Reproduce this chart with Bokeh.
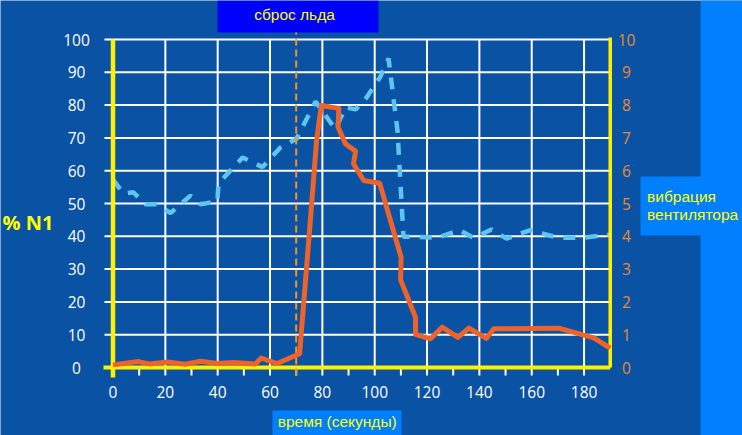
from bokeh.plotting import figure
from bokeh.models import Range1d, BoxAnnotation, Label
from bokeh.core.properties import value
from bokeh.embed import file_html
from bokeh.resources import INLINE

# ---------------- data ----------------
n1_time = [0, 9.7, 13.9, 20.8, 27.7, 33.4, 39.9, 46.0, 54.5, 56.6, 62.7, 71.3, 74.8, 77.8,
           79.6, 86.3, 86.0, 88.8, 92.7, 91.9, 95.8, 101.9, 110.1, 109.9, 115.6, 115.6,
           121.3, 125.8, 131.8, 136.0, 142.7, 145.5, 170.3, 183.7, 190]
n1_pct = [0.8, 1.8, 1.1, 1.7, 1.0, 1.9, 1.2, 1.5, 1.1, 2.9, 1.2, 4.2, 38.7, 69.2,
          79.9, 79.0, 73.3, 68.2, 65.9, 62.1, 57.0, 56.2, 33.6, 26.7, 15.3, 10.1,
          8.75, 12.3, 9.2, 12.0, 8.9, 11.8, 12.0, 9.05, 5.9]

vib_time = [0, 4.0, 7.8, 12.4, 16.6, 22.0, 29.6, 33.4, 39.9, 40.3, 49.5, 57.1, 64.0, 70.1,
            77.4, 85.0, 88.8, 92.7, 96.9, 102.2, 105.3, 108.7, 111.0, 124.0, 132.4, 137.8,
            144.6, 150.4, 159.5, 169.8, 178.6, 190]
vib_level = [5.73, 5.30, 5.34, 4.98, 4.98, 4.71, 5.24, 4.98, 5.06, 5.61, 6.40, 6.11, 6.71, 6.97,
             8.11, 7.26, 7.93, 7.87, 8.23, 8.87, 9.42, 7.23, 3.99, 3.96, 4.19, 3.95,
             4.21, 3.93, 4.19, 3.96, 3.95, 4.05]

x_tick_values = [0, 20, 40, 60, 80, 100, 120, 140, 160, 180]
x_tick_labels = ["0", "20", "40", "60", "80", "100", "120", "140", "160", "180"]
n1_tick_values = [0, 10, 20, 30, 40, 50, 60, 70, 80, 90, 100]
n1_tick_labels = ["0", "10", "20", "30", "40", "50", "60", "70", "80", "90", "100"]
vib_tick_values = [0, 1, 2, 3, 4, 5, 6, 7, 8, 9, 10]
vib_tick_labels = ["0", "1", "2", "3", "4", "5", "6", "7", "8", "9", "10"]
x_end_value = 190
ice_shed_time = 70

title_text = "сброс льда"
x_label_text = "время (секунды)"
left_label_text = "% N1"
right_label_lines = ["вибрация", "вентилятора"]

# ---------------- styling ----------------
BG = "#0A52A4"
BRIGHT = "#0080FF"
TITLE_BG = "#0000FF"
YELLOW = "#FFF200"
TXT_YELLOW = "#FFFF00"
ORANGE = "#EF6328"
ORANGE_DASH = "#F7941D"
ORANGE_TICK = "#EA8A2E"
LIGHT_BLUE = "#5EC5EF"

W, H = 742, 435
X0_PX, X_SCALE = 112.5, 2.617   # canvas px of t=0, px per second
Y0_PX, Y_SCALE = 367.0, 3.28    # canvas px of N1=0, px per %N1


def dx(px):
    return (px - X0_PX) / X_SCALE


def dy(py):
    return (Y0_PX - py) / Y_SCALE


p = figure(width=W, height=H,
           x_range=Range1d(dx(0), dx(W)), y_range=Range1d(dy(H), dy(0)),
           output_backend="svg", toolbar_location=None,
           x_axis_location=None, y_axis_location=None,
           min_border=0, min_border_left=0, min_border_right=0,
           min_border_top=0, min_border_bottom=0)
p.extra_y_ranges = {"vib": Range1d(dy(H) / 10, dy(0) / 10)}

p.background_fill_color = BG
p.border_fill_color = BG
p.outline_line_color = None
p.xgrid.visible = False
p.ygrid.visible = False

# ---------------- background boxes ----------------
for (l, r, t, b, c) in [(217, 378, 0, 32, TITLE_BG),
                        (700, W, 0, H, BRIGHT),
                        (640, 701, 176, 235, BRIGHT),
                        (272, 401, 410, H, BRIGHT)]:
    p.add_layout(BoxAnnotation(left=dx(l), right=dx(r), top=dy(t), bottom=dy(b),
                               fill_color=c, fill_alpha=1, line_color=None, line_alpha=0,
                               level="underlay"))

# ---------------- grid ----------------
tick_len = 8 / Y_SCALE
h_grid = [v for v in n1_tick_values if v > 0]
p.segment(x0=[dx(104)] * len(h_grid), x1=[x_end_value] * len(h_grid), y0=h_grid, y1=h_grid,
          line_color="white", line_width=2)
v_grid = [v for v in x_tick_values if v > 0]
p.segment(x0=v_grid, x1=v_grid, y0=[-tick_len] * len(v_grid), y1=[n1_tick_values[-1]] * len(v_grid),
          line_color="white", line_width=2)
minor_x = [v + 10 for v in x_tick_values[:-1]]
p.segment(x0=minor_x, x1=minor_x, y0=[-tick_len] * len(minor_x), y1=[0] * len(minor_x),
          line_color="white", line_width=2)

# ---------------- series ----------------
p.line(vib_time, vib_level, y_range_name="vib", line_color=LIGHT_BLUE, line_width=4.5,
       line_dash="12 10")

# yellow axis lines
p.segment(x0=[0], x1=[0], y0=[dy(377)], y1=[n1_tick_values[-1]], line_color=YELLOW, line_width=4.5)
p.segment(x0=[dx(103)], x1=[x_end_value], y0=[0], y1=[0], line_color=YELLOW, line_width=4)
p.segment(x0=[x_end_value], x1=[x_end_value], y0=[0], y1=[dy(37)], line_color=YELLOW, line_width=3.5)

p.segment(x0=[ice_shed_time], x1=[ice_shed_time], y0=[-tick_len], y1=[dy(32)],
          line_color=ORANGE_DASH, line_width=2, line_dash="7 4")

p.line(n1_time, n1_pct, line_color=ORANGE, line_width=5, line_join="round")

# ---------------- tick labels ----------------
num_font = value("Open Sans")
p.text(x=x_tick_values, y=[dy(391.7)] * len(x_tick_values), text=x_tick_labels,
       text_align="center", text_baseline="middle", text_color="white",
       text_font=num_font, text_font_size="15.5px")
p.text(x=[dx(76)] * len(n1_tick_values), y=n1_tick_values, text=n1_tick_labels,
       text_align="center", text_baseline="middle", text_color="white",
       text_font=num_font, text_font_size="15.5px")
p.text(x=[dx(626)] * len(vib_tick_values), y=vib_tick_values, text=vib_tick_labels,
       y_range_name="vib", text_align="center", text_baseline="middle", text_color=ORANGE_TICK,
       text_font=num_font, text_font_size="15.5px")

# ---------------- texts ----------------
p.add_layout(Label(x=dx(294), y=dy(13.5), text=title_text, text_align="center",
                   text_baseline="middle", text_color=TXT_YELLOW,
                   text_font="Liberation Sans", text_font_size="15.5px"))
p.add_layout(Label(x=dx(336.7), y=dy(421), text=x_label_text, text_align="center",
                   text_baseline="middle", text_color=TXT_YELLOW,
                   text_font="Liberation Sans", text_font_size="15.5px"))
p.add_layout(Label(x=dx(2), y=dy(221.7), text=left_label_text, text_align="left",
                   text_baseline="middle", text_color=TXT_YELLOW,
                   text_font="Open Sans", text_font_size="20px", text_font_style="bold"))
for i, line in enumerate(right_label_lines):
    p.add_layout(Label(x=dx(646.5), y=dy(195.7 + 18.3 * i), text=line, text_align="left",
                       text_baseline="middle", text_color=TXT_YELLOW,
                       text_font="Liberation Sans", text_font_size="15.5px"))

open("out.html", "w").write(file_html(p, INLINE))
